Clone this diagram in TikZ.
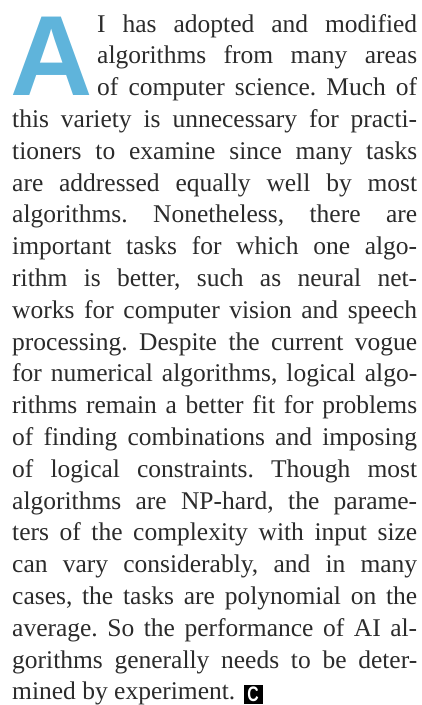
\documentclass[tikz,border=0pt]{standalone}
\usepackage{fontspec}
\setmainfont{Liberation Serif}
\newfontfamily\capfont{Liberation Sans}
\usepackage{xcolor}
\definecolor{capblue}{HTML}{5FB4DB}
\definecolor{inkgray}{HTML}{2B2B2B}
\usepackage{tikz}
\usetikzlibrary{positioning}
\frenchspacing

\begin{document}
\begin{tikzpicture}[x=1pt,y=1pt]
\tikzset{
 bodyline/.style={anchor=base west,inner sep=0pt,text=inkgray,font=\fontsize{25.5}{31.8}\selectfont},
 dropcap/.style={anchor=base west,inner sep=0pt,text=capblue,font=\capfont\bfseries\fontsize{114}{114}\selectfont},
 endmark/.style={anchor=base west,fill=black,text=white,minimum size=19pt,inner sep=0pt,font=\capfont\bfseries\fontsize{21}{21}\selectfont}
}
\useasboundingbox (0,0) rectangle (421,-705);
\node[dropcap] (cap) at (10,-95) {A};
\foreach \txt [count=\i] in {{I has adopted and modified},{algorithms from many areas},{of computer science. Much of}}
 \node[bodyline] (l\i) at (97,{-32-(\i-1)*31.8}) {\makebox[320pt][s]{\txt}};
\foreach \txt [count=\i from 4] in {
 {this variety is unnecessary for practi-},
 {tioners to examine since many tasks},
 {are addressed equally well by most},
 {algorithms. Nonetheless, there are},
 {important tasks for which one algo-},
 {rithm is better, such as neural net-},
 {works for computer vision and speech},
 {processing. Despite the current vogue},
 {for numerical algorithms, logical algo-},
 {rithms remain a better fit for problems},
 {of finding combinations and imposing},
 {of logical constraints. Though most},
 {algorithms are NP-hard, the parame-},
 {ters of the complexity with input size},
 {can vary considerably, and in many},
 {cases, the tasks are polynomial on the},
 {average. So the performance of AI al-},
 {gorithms generally needs to be deter-}}
 \node[bodyline] (l\i) at (12,{-32-(\i-1)*31.8}) {\makebox[405pt][s]{\txt}};
\node[bodyline] (l22) at (12,{-32-21*31.8}) {mined by experiment.};
\node[endmark] (mark) at ([xshift=8pt,yshift=-2pt]l22.base east) {\scalebox{0.75}[1]{C}};
\end{tikzpicture}
\end{document}
